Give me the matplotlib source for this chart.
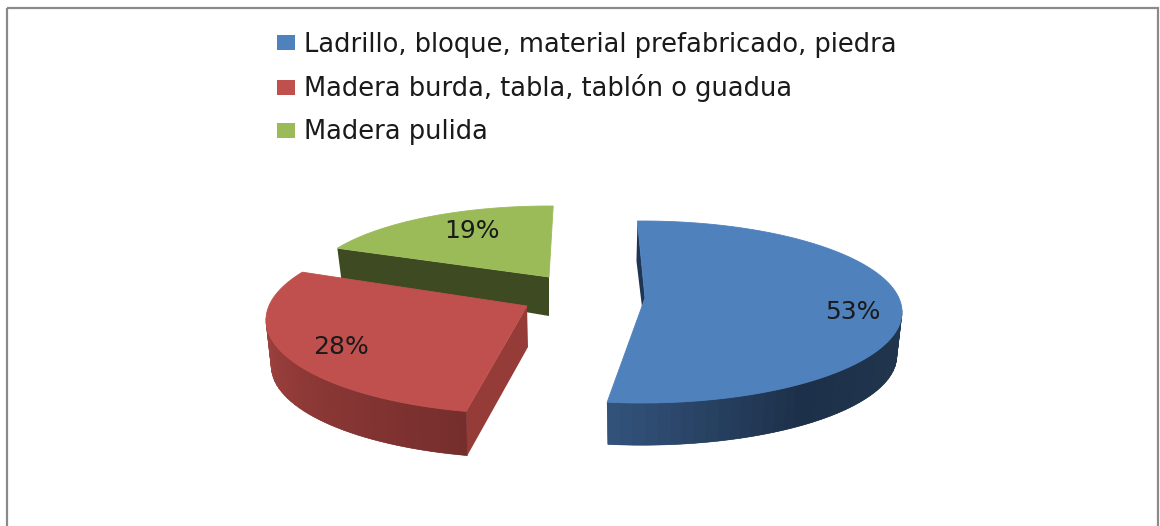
import numpy as np
import matplotlib
matplotlib.use("Agg")
import matplotlib.pyplot as plt
from matplotlib.patches import Polygon, Rectangle
from matplotlib.collections import PolyCollection
from matplotlib.colors import to_rgb

# ---- data ----
categories = ["Ladrillo, bloque, material prefabricado, piedra",
              "Madera burda, tabla, tablón o guadua",
              "Madera pulida"]
values = [53, 28, 19]
labels = ["53%", "28%", "19%"]

# ---- style / layout (screen pixels) ----
colors = ["#4F81BD", "#C0504D", "#9BBB59"]
centers = [(642, 312), (527, 320), (549, 288)]
apexes = [(645, 298), (527, 306), (549, 277)]
radii = [(260, 91), (261, 94), (242, 82)]
rim_depth = [44, 46, 32]
apex_depth = [0, 41, 39]
nudge_start = [1.0, -2.7, -7.4]
nudge_end = [3.1, -9.0, -1.0]
rim_left = ["#33537C", "#A04340", None]
rim_mid = ["#1D3049", "#8A3735", None]
rim_right = ["#23374F", "#752E2C", None]
rim_mid_pos = [0.45, 0.5, None]
cut_colors = ["#1F3552", "#953C39", "#3D4A22"]
label_pos = [(853, 312), (341, 347), (472, 231)]

fig = plt.figure(figsize=(11.6, 5.26), dpi=100, facecolor="white")
ax = fig.add_axes([0, 0, 1, 1])
ax.set_xlim(0, 1160)
ax.set_ylim(526, 0)
ax.axis("off")

ax.add_patch(Rectangle((6.5, 8), 1151, 600, fill=False, ec="#8A8A8A", lw=1.6))

starts = 90 - np.cumsum([0] + values[:-1]) * 3.6
ends = 90 - np.cumsum(values) * 3.6


def arc(i, a, depth=0.0, shrink=1.0):
    cx, cy = centers[i]
    rx, ry = radii[i]
    a = np.radians(a)
    return np.column_stack([cx + rx * shrink * np.cos(a),
                            cy + depth - ry * shrink * np.sin(a)])


def mix(c0, c1, t):
    return tuple((1 - t) * np.array(to_rgb(c0)) + t * np.array(to_rgb(c1)))


for i in [2, 1, 0]:
    a0 = starts[i] + nudge_start[i]
    a1 = ends[i] + nudge_end[i]
    ang = np.linspace(a0, a1, 400)
    top = arc(i, ang)
    bottom = arc(i, ang, rim_depth[i], 0.98)
    ax_, ay_ = apexes[i]

    # cut faces
    if i == 2:
        ax.add_patch(Polygon([(ax_, ay_), top[0], bottom[0],
                              (ax_, ay_ + apex_depth[i])], fc=cut_colors[i], ec="none"))
    if i == 1:
        ax.add_patch(Polygon([(ax_, ay_), top[0], bottom[0],
                              (ax_ + 1, ay_ + apex_depth[i])], fc=cut_colors[i], ec="none"))
    if i == 0:
        ax.add_patch(Polygon([top[0], (ax_, ay_), (ax_ - 3, ay_ + 9),
                              (top[0][0] - 1, top[0][1] + 40)], fc=cut_colors[i], ec="none"))

    # outer rim, front part only: solid base plus gradient bands
    if rim_left[i] is not None:
        front = np.where(np.sin(np.radians(ang)) < 0.02)[0]
        tf, bf = top[front], bottom[front]
        n = len(front)
        ax.add_patch(Polygon(np.vstack([tf, bf[::-1]]), fc=rim_mid[i], ec="none"))
        bands = 36
        edges = np.linspace(0, n - 1, bands + 1).astype(int)
        quads, cols = [], []
        m = rim_mid_pos[i]
        for b in range(bands):
            e0, e1 = edges[b], edges[b + 1]
            quads.append(np.vstack([tf[e0:e1 + 1], bf[e0:e1 + 1][::-1]]))
            s = 1 - (b + 0.5) / bands      # 0 at the left end, 1 at the right end
            c = mix(rim_left[i], rim_mid[i], s / m) if s < m \
                else mix(rim_mid[i], rim_right[i], (s - m) / (1 - m))
            cols.append(c)
        ax.add_collection(PolyCollection(quads, facecolors=cols, edgecolors=cols,
                                         linewidths=0.4))

    # top face
    poly = np.vstack([[(ax_, ay_)], top])
    ax.add_patch(Polygon(poly, closed=True, fc=colors[i], ec=colors[i], lw=0.6))
    ax.text(*label_pos[i], labels[i], fontsize=18, color="#1A1A1A",
            ha="center", va="center", family="DejaVu Sans")

handles = [Rectangle((0, 0), 1, 1, fc=c, ec="none") for c in colors]
ax.legend(handles, categories, loc="upper left", bbox_to_anchor=(277, 31.5),
          bbox_transform=ax.transData, frameon=False,
          prop={"family": "DejaVu Sans", "size": 18.5},
          labelcolor="#1A1A1A", handlelength=0.7, handleheight=0.5,
          handletextpad=0.36, labelspacing=0.66, borderpad=0, borderaxespad=0)

fig.savefig("out.png", dpi=100, facecolor="white")
